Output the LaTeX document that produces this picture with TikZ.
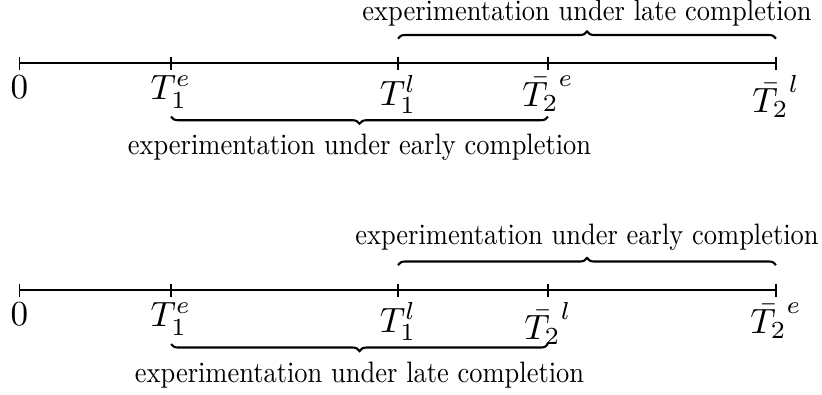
\documentclass[tikz,border=0pt]{standalone}
\usepackage{amsmath}
\usetikzlibrary{calc, decorations.pathreplacing, positioning}

\begin{document}
\begin{tikzpicture}[
        axis/.style={semithick},
        tick/.style={thin},
        lbl/.style={below},
        brace/.style={semithick, decorate, decoration={brace, amplitude=2pt}},
        mbrace/.style={semithick, decorate, decoration={brace, amplitude=2pt, mirror}},
        btext/.style={xscale=0.753, yscale=0.84, transform shape}
    ]
        \useasboundingbox (0,0) rectangle (8.22,3.94);

        % early completion before late completion
        \foreach \n/\x/\t in {0/0.195/0, 1e/1.71/T_1^e, 1l/3.98/T_1^l, 2e/5.48/\bar{T_2}^e, 2l/7.76/\bar{T_2}^l} {
            \coordinate (t\n) at (\x,3.31);
            \draw[tick] ($(t\n)+(0,0.065)$) -- ($(t\n)+(0,-0.065)$);
            \node[lbl] (lt\n) at (t\n) {$\t$};
        }
        \draw[axis] (t0) -- (t2l);
        \draw[brace] ($(t1l)+(0,0.245)$) -- node[btext, above=0.4pt] {experimentation under late completion} ($(t2l)+(0,0.245)$);
        \draw[mbrace] ($(t1e)+(0,-0.537)$) -- node[btext, below=2pt] {experimentation under early completion} ($(t2e)+(0,-0.537)$);

        % late completion before early completion
        \foreach \n/\x/\t in {0/0.195/0, 1e/1.71/T_1^e, 1l/3.98/T_1^l, 2l/5.48/\bar{T_2}^l, 2e/7.76/\bar{T_2}^e} {
            \coordinate (b\n) at (\x,1.04);
            \draw[tick] ($(b\n)+(0,0.065)$) -- ($(b\n)+(0,-0.065)$);
            \node[lbl] (lb\n) at (b\n) {$\t$};
        }
        \draw[axis] (b0) -- (b2e);
        \draw[brace] ($(b1l)+(0,0.25)$) -- node[btext, above=1.2pt] {experimentation under early completion} ($(b2e)+(0,0.25)$);
        \draw[mbrace] ($(b1e)+(0,-0.54)$) -- node[btext, below=2pt] {experimentation under late completion} ($(b2l)+(0,-0.54)$);
    \end{tikzpicture}
\end{document}
